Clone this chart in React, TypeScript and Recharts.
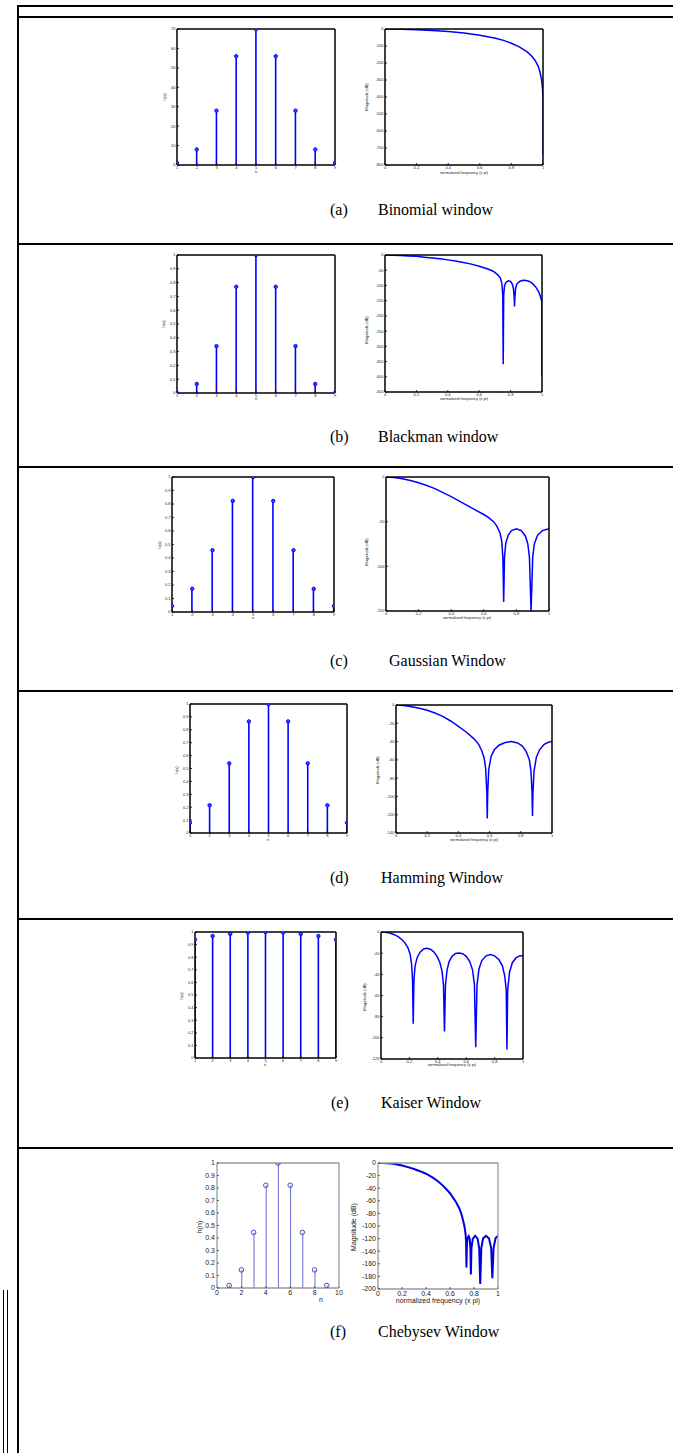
import React from 'react';
import { ComposedChart, LineChart, Line, Bar, Scatter, XAxis, YAxis } from 'recharts';

// ---------- data ----------
const nValues = [1, 2, 3, 4, 5, 6, 7, 8, 9];

const binomialH = [1, 8, 28, 56, 70, 56, 28, 8, 1];
const blackmanH = [0, 0.066, 0.34, 0.77, 1, 0.77, 0.34, 0.066, 0];
const gaussianH = [0.044, 0.172, 0.458, 0.823, 1, 0.823, 0.458, 0.172, 0.044];
const hammingH = [0.08, 0.215, 0.54, 0.865, 1, 0.865, 0.54, 0.215, 0.08];
const kaiserH = [0.94, 0.968, 0.985, 0.996, 1, 0.996, 0.985, 0.968, 0.94];
const chebyH = [0.02, 0.145, 0.445, 0.822, 1, 0.822, 0.445, 0.145, 0.02];

const binomialF = [0, 0.1, 0.2, 0.3, 0.4, 0.5, 0.6, 0.7, 0.75, 0.8, 0.85, 0.9, 0.93, 0.95, 0.97, 0.98, 0.99, 0.995, 0.999, 1, 1];
const binomialDb = [0, -1, -3.8, -8.5, -15, -24, -37, -55, -67, -84, -105, -135, -160, -185, -220, -250, -295, -330, -380, -395, -740];

const blackmanF = [0, 0.05, 0.1, 0.15, 0.2, 0.25, 0.3, 0.35, 0.4, 0.45, 0.5, 0.55, 0.6, 0.65, 0.68, 0.7, 0.72, 0.735, 0.745, 0.75, 0.753, 0.756, 0.762, 0.77, 0.785, 0.8, 0.81, 0.818, 0.823, 0.825, 0.827, 0.832, 0.84, 0.86, 0.88, 0.9, 0.92, 0.94, 0.96, 0.98, 0.99, 1, 1];
const blackmanDb = [0, -0.5, -1.5, -3, -4.5, -7, -9.5, -12.5, -16, -20, -25, -30, -37, -45, -51, -57, -66, -76, -95, -130, -359, -130, -100, -90, -85, -87, -95, -110, -140, -169, -140, -110, -95, -86, -83, -84, -87, -94, -105, -122, -136, -155, -400];

const gaussianF = [0, 0.05, 0.1, 0.15, 0.2, 0.25, 0.3, 0.35, 0.4, 0.45, 0.5, 0.55, 0.6, 0.63, 0.66, 0.68, 0.7, 0.71, 0.717, 0.722, 0.727, 0.735, 0.75, 0.77, 0.8, 0.83, 0.855, 0.87, 0.88, 0.89, 0.9, 0.91, 0.93, 0.96, 1];
const gaussianDb = [0, -0.5, -2, -4, -6.5, -9.5, -13, -17.5, -22, -27, -32, -37, -42, -45.5, -50, -55, -63, -72, -90, -140, -90, -74, -65, -60, -58, -60, -66, -75, -90, -150, -90, -75, -65, -60, -58];

const hammingF = [0, 0.05, 0.1, 0.15, 0.2, 0.25, 0.3, 0.35, 0.4, 0.45, 0.5, 0.53, 0.55, 0.565, 0.575, 0.582, 0.585, 0.588, 0.595, 0.61, 0.63, 0.66, 0.7, 0.74, 0.78, 0.81, 0.835, 0.855, 0.865, 0.872, 0.875, 0.878, 0.885, 0.9, 0.92, 0.95, 0.98, 1];
const hammingDb = [0, -0.5, -1.8, -3.6, -5.8, -8.8, -12.4, -17.5, -23.3, -29.5, -37, -43, -50, -58, -70, -95, -124, -95, -70, -56, -49, -44, -41, -40, -41.5, -45, -51, -60, -72, -95, -121.5, -95, -72, -57, -49, -43, -40.5, -40];

const kaiserF = [0, 0.03, 0.06, 0.09, 0.12, 0.15, 0.17, 0.19, 0.205, 0.215, 0.222, 0.227, 0.232, 0.24, 0.255, 0.275, 0.3, 0.32, 0.345, 0.37, 0.395, 0.415, 0.43, 0.44, 0.447, 0.454, 0.465, 0.48, 0.5, 0.525, 0.55, 0.575, 0.6, 0.625, 0.645, 0.658, 0.667, 0.676, 0.69, 0.71, 0.74, 0.77, 0.8, 0.83, 0.855, 0.872, 0.882, 0.887, 0.892, 0.905, 0.925, 0.95, 0.975, 1];
const kaiserDb = [0, -0.3, -1, -2.3, -4.3, -7.5, -10.5, -15, -21, -30, -45, -86.6, -45, -32, -24, -19, -16, -15.3, -16, -18.5, -23, -29, -37, -50, -94, -50, -36, -28, -23, -20.3, -19.8, -20.5, -23, -28, -36, -50, -109, -50, -35, -27, -22.5, -21.4, -22.5, -26, -32, -42, -55, -111, -55, -38, -29, -24.5, -22.6, -22.4];

const chebyF = [0, 0.05, 0.1, 0.15, 0.2, 0.25, 0.3, 0.35, 0.4, 0.45, 0.5, 0.55, 0.6, 0.65, 0.68, 0.7, 0.72, 0.73, 0.734, 0.737, 0.741, 0.748, 0.756, 0.764, 0.77, 0.774, 0.779, 0.79, 0.81, 0.83, 0.843, 0.852, 0.861, 0.875, 0.9, 0.925, 0.943, 0.953, 0.963, 0.98, 1];
const chebyDb = [0, -0.1, -0.6, -2, -4, -6.5, -9.5, -13, -17, -22.5, -29, -37.5, -48, -62, -73, -84, -100, -113, -125, -166, -128, -118, -116, -120, -135, -177, -135, -120, -115.5, -120, -135, -192, -135, -120, -115.5, -120, -135, -183, -135, -119, -115.5];

const unitTicks = [0, 0.1, 0.2, 0.3, 0.4, 0.5, 0.6, 0.7, 0.8, 0.9, 1];
const binomialTicks = [0, 10, 20, 30, 40, 50, 60, 70];
const freqTicks = [0, 0.2, 0.4, 0.6, 0.8, 1];
const binomialDbTicks = [-800, -700, -600, -500, -400, -300, -200, -100, 0];
const blackmanDbTicks = [-450, -400, -350, -300, -250, -200, -150, -100, -50, 0];
const gaussianDbTicks = [-150, -100, -50, 0];
const hammingDbTicks = [-140, -120, -100, -80, -60, -40, -20, 0];
const kaiserDbTicks = [-120, -100, -80, -60, -40, -20, 0];
const chebyDbTicks = [-200, -180, -160, -140, -120, -100, -80, -60, -40, -20, 0];
const nTicks = [1, 2, 3, 4, 5, 6, 7, 8, 9];
const nTicksCheby = [0, 2, 4, 6, 8, 10];

// ---------- styles ----------
type Style = {
  axis: string; axisW: number; tickC: string; tick: number; gap: number; fs: number; label: string;
  stem: string; stemW: number; mr: number; mStroke: string; mFill: string; line: string; lineW: number; yW: number;
};
const matlab: Style = {
  axis: '#000', axisW: 1.5, tickC: '#000', tick: 2, gap: 1.5, fs: 4, label: '#222',
  stem: '#0000ff', stemW: 1.6, mr: 1.7, mStroke: '#0000ff', mFill: '#4444ff', line: '#0000ff', lineW: 1.5, yW: 18,
};
const chebStyle: Style = {
  axis: '#9a9a9a', axisW: 1.3, tickC: '#333', tick: 2, gap: 2, fs: 7, label: '#222',
  stem: '#6a6ad2', stemW: 1, mr: 2.3, mStroke: '#4b4bc8', mFill: 'none', line: '#0000dd', lineW: 2, yW: 24,
};
const SANS = '"Liberation Sans", Arial, Helvetica, sans-serif';
const SERIF = '"Liberation Serif", "Times New Roman", serif';

type Box = { x: number; y: number; w: number; h: number };

function axesProps(st: Style) {
  return {
    tickSize: -st.tick,
    tickMargin: st.tick + st.gap,
    tick: { fontSize: st.fs, fill: st.label, fontFamily: SANS },
    axisLine: { stroke: st.axis, strokeWidth: st.axisW },
    tickLine: { stroke: st.tickC, strokeWidth: 0.8 },
    interval: 0 as const,
    allowDataOverflow: true,
    type: 'number' as const,
  };
}

function StemPlot({ box, values, yDomain, yTicks, xDomain, xTicks, st }: {
  box: Box; values: number[]; yDomain: [number, number]; yTicks: number[]; xDomain: [number, number]; xTicks: number[]; st: Style;
}) {
  const L = st.yW, R = 4, T = 4, B = 14;
  const data = nValues.map((n, i) => ({ n, v: values[i] }));
  const ap = axesProps(st);
  return (
    <div style={{ position: 'absolute', left: box.x - L, top: box.y - T }}>
      <ComposedChart width={L + box.w + R} height={T + box.h + B} data={data} margin={{ top: 0, right: 0, bottom: 0, left: 0 }}>
        <XAxis xAxisId="b" dataKey="n" domain={xDomain} ticks={xTicks} height={B} {...ap} />
        <XAxis xAxisId="t" dataKey="n" orientation="top" domain={xDomain} ticks={xTicks} height={T} {...ap} tick={false} />
        <YAxis yAxisId="l" domain={yDomain} ticks={yTicks} width={L} {...ap} />
        <YAxis yAxisId="r" orientation="right" domain={yDomain} ticks={yTicks} width={R} {...ap} tick={false} />
        <Bar xAxisId="b" yAxisId="l" dataKey="v" barSize={st.stemW} fill={st.stem} isAnimationActive={false} />
        <Scatter xAxisId="b" yAxisId="l" dataKey="v" isAnimationActive={false}
          shape={(p: any) => <circle cx={p.cx} cy={p.cy} r={st.mr} stroke={st.mStroke} strokeWidth={1} fill={st.mFill} />} />
      </ComposedChart>
    </div>
  );
}

function MagPlot({ box, f, db, yDomain, yTicks, st }: {
  box: Box; f: number[]; db: number[]; yDomain: [number, number]; yTicks: number[]; st: Style;
}) {
  const L = st.yW + 4, R = 4, T = 4, B = 14;
  const data = f.map((x, i) => ({ f: x, db: db[i] }));
  const ap = axesProps(st);
  return (
    <div style={{ position: 'absolute', left: box.x - L, top: box.y - T }}>
      <LineChart width={L + box.w + R} height={T + box.h + B} data={data} margin={{ top: 0, right: 0, bottom: 0, left: 0 }}>
        <XAxis xAxisId="b" dataKey="f" domain={[0, 1]} ticks={freqTicks} height={B} {...ap} />
        <XAxis xAxisId="t" dataKey="f" orientation="top" domain={[0, 1]} ticks={freqTicks} height={T} {...ap} tick={false} />
        <YAxis yAxisId="l" domain={yDomain} ticks={yTicks} width={L} {...ap} />
        <YAxis yAxisId="r" orientation="right" domain={yDomain} ticks={yTicks} width={R} {...ap} tick={false} />
        <Line xAxisId="b" yAxisId="l" dataKey="db" type="linear" dot={false} stroke={st.line} strokeWidth={st.lineW} isAnimationActive={false} />
      </LineChart>
    </div>
  );
}

function Txt({ x, y, text, fs, rot, color = '#222' }: { x: number; y: number; text: string; fs: number; rot?: boolean; color?: string }) {
  return (
    <div style={{
      position: 'absolute', left: x, top: y, fontFamily: SANS, fontSize: fs, lineHeight: 1, color,
      whiteSpace: 'nowrap', transform: `translate(-50%, -50%)${rot ? ' rotate(-90deg)' : ''}`,
    }}>{text}</div>
  );
}

function Caption({ y, tag, name, tagX = 330, nameX }: { y: number; tag: string; name: string; tagX?: number; nameX: number }) {
  const s: React.CSSProperties = { position: 'absolute', top: y - 9, fontFamily: SERIF, fontSize: 16, lineHeight: '18px', color: '#000', whiteSpace: 'nowrap' };
  return (
    <>
      <div style={{ ...s, left: tagX }}>{tag}</div>
      <div style={{ ...s, left: nameX }}>{name}</div>
    </>
  );
}

const HLine = ({ y, t = 1.5 }: { y: number; t?: number }) => (
  <div style={{ position: 'absolute', left: 18, top: y, width: 655, height: t, background: '#000' }} />
);

export default function App() {
  return (
    <div style={{ position: 'absolute', left: 0, top: 0, width: 673, height: 1453, background: '#fff', overflow: 'hidden' }}>
      <HLine y={5} t={2} />
      <HLine y={16} t={2} />
      <HLine y={243} />
      <HLine y={466} />
      <HLine y={690} />
      <HLine y={918} />
      <HLine y={1147} />
      <div style={{ position: 'absolute', left: 17, top: 5, width: 1.5, height: 1448, background: '#000' }} />
      <div style={{ position: 'absolute', left: 3, top: 1290, width: 1.2, height: 163, background: '#000' }} />
      <div style={{ position: 'absolute', left: 7, top: 1290, width: 1.2, height: 163, background: '#000' }} />

      {/* (a) Binomial */}
      <StemPlot box={{ x: 177, y: 29, w: 158, h: 136 }} values={binomialH} yDomain={[0, 70]} yTicks={binomialTicks} xDomain={[1, 9]} xTicks={nTicks} st={matlab} />
      <MagPlot box={{ x: 385, y: 29, w: 158, h: 136 }} f={binomialF} db={binomialDb} yDomain={[-800, 0]} yTicks={binomialDbTicks} st={matlab} />
      <Txt x={165} y={97} text="h(n)" fs={4} rot />
      <Txt x={367} y={97} text="Magnitude (dB)" fs={4} rot />
      <Txt x={256} y={172} text="n" fs={4} />
      <Txt x={464} y={173} text="normalized frequency (x pi)" fs={4} />
      <Caption y={210} tag="(a)" name="Binomial window" nameX={378} />

      {/* (b) Blackman */}
      <StemPlot box={{ x: 177, y: 255, w: 158, h: 138 }} values={blackmanH} yDomain={[0, 1]} yTicks={unitTicks} xDomain={[1, 9]} xTicks={nTicks} st={matlab} />
      <MagPlot box={{ x: 385, y: 255, w: 157, h: 137 }} f={blackmanF} db={blackmanDb} yDomain={[-450, 0]} yTicks={blackmanDbTicks} st={matlab} />
      <Txt x={164} y={324} text="h(n)" fs={4} rot />
      <Txt x={367} y={330} text="Magnitude (dB)" fs={4} rot />
      <Txt x={256} y={399} text="n" fs={4} />
      <Txt x={464} y={399} text="normalized frequency (x pi)" fs={4} />
      <Caption y={437} tag="(b)" name="Blackman window" nameX={378} />

      {/* (c) Gaussian */}
      <StemPlot box={{ x: 172, y: 477, w: 162, h: 135 }} values={gaussianH} yDomain={[0, 1]} yTicks={unitTicks} xDomain={[1, 9]} xTicks={nTicks} st={matlab} />
      <MagPlot box={{ x: 386, y: 477, w: 163, h: 134 }} f={gaussianF} db={gaussianDb} yDomain={[-150, 0]} yTicks={gaussianDbTicks} st={matlab} />
      <Txt x={160} y={545} text="h(n)" fs={4} rot />
      <Txt x={367} y={552} text="Magnitude (dB)" fs={4} rot />
      <Txt x={253} y={618} text="n" fs={4} />
      <Txt x={467} y={618} text="normalized frequency (x pi)" fs={4} />
      <Caption y={661} tag="(c)" name="Gaussian Window" nameX={389} />

      {/* (d) Hamming */}
      <StemPlot box={{ x: 190, y: 704, w: 157, h: 129 }} values={hammingH} yDomain={[0, 1]} yTicks={unitTicks} xDomain={[1, 9]} xTicks={nTicks} st={matlab} />
      <MagPlot box={{ x: 396, y: 705, w: 156, h: 128 }} f={hammingF} db={hammingDb} yDomain={[-140, 0]} yTicks={hammingDbTicks} st={matlab} />
      <Txt x={177} y={770} text="h(n)" fs={4} rot />
      <Txt x={378} y={770} text="Magnitude (dB)" fs={4} rot />
      <Txt x={268} y={840} text="n" fs={4} />
      <Txt x={474} y={840} text="normalized frequency (x pi)" fs={4} />
      <Caption y={878} tag="(d)" name="Hamming Window" nameX={381} />

      {/* (e) Kaiser */}
      <StemPlot box={{ x: 195, y: 932, w: 141, h: 126 }} values={kaiserH} yDomain={[0, 1]} yTicks={unitTicks} xDomain={[1, 9]} xTicks={nTicks} st={matlab} />
      <MagPlot box={{ x: 381, y: 932, w: 142, h: 127 }} f={kaiserF} db={kaiserDb} yDomain={[-120, 0]} yTicks={kaiserDbTicks} st={matlab} />
      <Txt x={182} y={996} text="h(n)" fs={4} rot />
      <Txt x={365} y={997} text="Magnitude (dB)" fs={4} rot />
      <Txt x={265} y={1065} text="n" fs={4} />
      <Txt x={452} y={1065} text="normalized frequency (x pi)" fs={4} />
      <Caption y={1103} tag="(e)" name="Kaiser Window" tagX={331} nameX={381} />

      {/* (f) Chebyshev */}
      <StemPlot box={{ x: 217, y: 1163, w: 122, h: 125 }} values={chebyH} yDomain={[0, 1]} yTicks={unitTicks} xDomain={[0, 10]} xTicks={nTicksCheby} st={chebStyle} />
      <MagPlot box={{ x: 378, y: 1163, w: 120, h: 126 }} f={chebyF} db={chebyDb} yDomain={[-200, 0]} yTicks={chebyDbTicks} st={chebStyle} />
      <Txt x={199} y={1227} text="h(n)" fs={7} rot />
      <Txt x={353} y={1227} text="Magnitude (dB)" fs={7} rot />
      <Txt x={321} y={1299} text="n" fs={7} />
      <Txt x={438} y={1300} text="normalized frequency (x pi)" fs={7} />
      <Caption y={1332} tag="(f)" name="Chebysev Window" nameX={378} />
    </div>
  );
}
